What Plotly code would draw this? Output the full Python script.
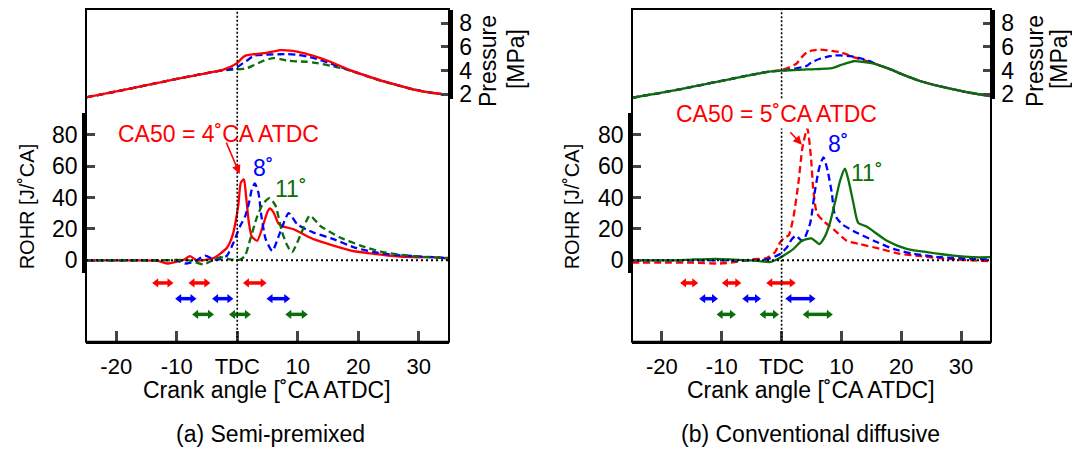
import plotly.graph_objects as go

# ---------------- data ----------------
# Panel (a) Semi-premixed : ROHR [J/°CA]
a_red_x = [-25, -20, -15, -13, -11.6, -10, -8.8, -7.8, -6.7, -5.5, -3.9, -2.9, -1.7, -0.8, -0.3, 0.2, 0.6, 1.1, 1.45, 1.9, 2.4, 3.3, 4.4, 5.0, 5.35, 6.0, 6.8, 7.7, 9.3, 10.4, 12.6, 15.9, 19.3, 22.6, 25.9, 29.2, 32.5, 35]
a_red_y = [0, 0, 0, -0.5, -2, -0.8, 0.5, 2.7, 0, 0.2, 1.5, 4, 8, 15.6, 24, 36, 49.6, 51.5, 41, 24.6, 15.2, 12.5, 24, 31, 33, 30.6, 23.5, 21.5, 19.8, 17.7, 13.5, 9.4, 5.8, 4.2, 2.7, 2, 2, 1]
a_blue_x = [-25, -15, -10, -8.6, -7, -5.3, -3.9, -2.8, -1.7, -0.6, 0.5, 1.3, 1.9, 2.4, 2.9, 3.5, 4.0, 4.7, 5.8, 7.1, 8.5, 9.9, 11, 12.6, 15.9, 19.3, 22.6, 25.9, 29.2, 32.5, 35]
a_blue_y = [0, 0, 0, -2, -0.5, 3, 0.5, 0.8, 3, 11.5, 22, 28, 36, 45, 49, 43, 28, 13.5, 6, 18, 30, 23, 20.5, 17.7, 13.5, 8.3, 5.2, 3.5, 2.7, 2, 1.5]
a_green_x = [-25, -15, -8, -5.6, -4, -2.8, -1.2, 0.5, 1.3, 2.15, 3.3, 4.25, 5.35, 6.3, 7.4, 8.2, 9.05, 10.4, 12, 13.7, 17, 20.4, 23.7, 27, 31.4, 35]
a_green_y = [0, 0, 0, -2.5, 0, 2, 0.6, 0.5, 3, 13.5, 28, 36, 39.6, 35, 18, 10, 5.2, 15.6, 28.5, 22, 14.6, 9.4, 5.6, 3.5, 2, 1.5]

# Panel (a) : cylinder pressure [MPa]
a_p_x = [-25, -20, -15, -10, -5, -2.5, -1.2, 0, 1, 1.6, 2.7, 4.4, 6, 7.1, 8.2, 9.9, 11.5, 12.6, 15.4, 18.1, 20.9, 23.7, 26.5, 29.2, 32, 35]
a_p_red = [1.75, 2.25, 2.78, 3.3, 3.8, 4.05, 4.3, 4.65, 5.15, 5.3, 5.38, 5.47, 5.62, 5.72, 5.7, 5.6, 5.4, 5.25, 4.75, 4.15, 3.65, 3.18, 2.78, 2.41, 2.15, 1.95]
a_p_blue = [1.75, 2.25, 2.78, 3.3, 3.8, 4.03, 4.12, 4.3, 4.65, 4.84, 5.25, 5.34, 5.37, 5.38, 5.39, 5.33, 5.2, 5.08, 4.6, 4.12, 3.64, 3.17, 2.78, 2.41, 2.15, 1.95]
a_p_green = [1.75, 2.25, 2.78, 3.3, 3.8, 4.02, 4.07, 4.1, 4.15, 4.2, 4.45, 4.84, 5.06, 4.98, 4.84, 4.78, 4.75, 4.68, 4.42, 4.09, 3.62, 3.16, 2.76, 2.4, 2.14, 1.95]

# Panel (b) Conventional diffusive : ROHR
b_red_x = [-25, -20, -15, -10.3, -7.5, -5.3, -2.5, -1.1, -0.25, 0.5, 1.2, 2, 2.8, 3.5, 4.3, 4.9, 5.3, 5.9, 7, 8.7, 10.9, 13.1, 16.5, 19.8, 23.2, 27.6, 32, 35]
b_red_y = [-1.5, -1.5, -1.5, -2, -1, 0.6, 1.5, 5.2, 11.5, 14.5, 16, 28, 49, 72, 84, 66, 45, 30, 25, 19.8, 12.5, 10.4, 7.3, 4.2, 2.7, 1, 0, -0.6]
b_blue_x = [-25, -15, -5, -2.5, -0.25, 0.9, 1.7, 2.4, 3.4, 3.9, 4.8, 5.6, 6.3, 7, 7.7, 8.4, 8.9, 10.1, 12, 15.4, 18.7, 22, 26.5, 32, 35]
b_blue_y = [0, 0, 0, 0.6, 4, 8.3, 13.5, 15.6, 12.5, 14.6, 24, 44.8, 59, 65.6, 57, 42.7, 29, 23, 18.75, 12.5, 7.3, 4.2, 2, 1, 0.6]
b_green_x = [-25, -18, -15, -11, -8, -5, -1.9, -0.8, 0.3, 2, 3.4, 5, 6.3, 7.3, 8.1, 8.9, 9.8, 10.6, 11.3, 12, 12.8, 14.2, 17.6, 20.9, 24.3, 28.7, 32, 35]
b_green_y = [0, 0, 0.5, 1, 0.5, 0, -1, 0.6, 3, 7.3, 12.5, 14, 10.4, 15.6, 24, 36.5, 51, 58.3, 49, 36.5, 24, 21.5, 12.5, 7.3, 5.2, 3, 2, 2]

# Panel (b) : pressure
b_p_x = [-25, -20, -15, -10, -5, -2, 0, 0.9, 2, 2.5, 3.5, 4.2, 5, 6.4, 8.1, 8.7, 9.8, 11.5, 12, 13.5, 14.8, 16, 18, 20.4, 23, 26, 29, 31.5, 35]
b_p_green = [1.72, 2.15, 2.63, 3.15, 3.65, 3.92, 4.0, 4.02, 4.05, 4.06, 4.08, 4.1, 4.11, 4.14, 4.19, 4.25, 4.46, 4.72, 4.79, 4.75, 4.65, 4.5, 4.15, 3.64, 3.15, 2.74, 2.4, 2.14, 1.86]
b_p_red = [1.72, 2.15, 2.63, 3.15, 3.65, 3.92, 4.05, 4.19, 4.45, 4.6, 5.2, 5.55, 5.68, 5.77, 5.68, 5.64, 5.55, 5.25, 5.14, 4.92, 4.73, 4.52, 4.15, 3.64, 3.15, 2.74, 2.4, 2.14, 1.86]
b_p_blue = [1.72, 2.15, 2.63, 3.15, 3.65, 3.92, 4.0, 4.05, 4.15, 4.2, 4.3, 4.4, 4.7, 5.0, 5.22, 5.28, 5.28, 5.22, 5.18, 5.0, 4.78, 4.5, 4.15, 3.64, 3.15, 2.74, 2.4, 2.14, 1.86]

# Injection periods [°CA ATDC] (start, end), rows: CA50 = 4/5, 8, 11
a_inj_red = [(-13.4, -11.2), (-7.4, -5.1), (1.6, 4.2)]
a_inj_blue = [(-9.6, -7.4), (-3.5, -1.3), (5.5, 8.1)]
a_inj_green = [(-6.8, -4.5), (-0.7, 1.6), (8.6, 11.0)]
b_inj_red = [(-16.3, -14.6), (-9.3, -7.4), (-1.9, 1.7)]
b_inj_blue = [(-13.1, -11.3), (-5.9, -4.1), (1.3, 5.0)]
b_inj_green = [(-10.2, -8.3), (-3.0, -1.1), (4.2, 7.9)]
inj_rows = [1, 2, 3]

x_tickvals = [-20, -10, 0, 10, 20, 30]
x_ticktext = ["-20", "-10", "TDC", "10", "20", "30"]
rohr_ticks = [0, 20, 40, 60, 80]
p_ticks = [2, 4, 6, 8]

# ---------------- layout helpers ----------------
# page has an 8px body margin; figure sized so the page is exactly 1080x460
OFF = 8
FW, FH = 1064, 444
def px(x):
    return (x - OFF) / FW
def py(y):
    return 1 - (y - OFF) / FH

RED, BLUE, GREEN = "#ff0000", "#0000ff", "#0b6e0b"
FONT = "Liberation Sans, Arial, sans-serif"
DASH = "7px,4px"

fig = go.Figure()

panels = [
    dict(xa="x", ya_r="y", ya_p="y2", ya_i="y3",
         rohr=[(a_red_x, a_red_y, RED, "solid"), (a_blue_x, a_blue_y, BLUE, DASH), (a_green_x, a_green_y, GREEN, DASH)],
         pres=(a_p_x, [(a_p_green, GREEN, DASH), (a_p_blue, BLUE, DASH), (a_p_red, RED, "solid")]),
         inj=[(a_inj_red, RED), (a_inj_blue, BLUE), (a_inj_green, GREEN)]),
    dict(xa="x2", ya_r="y4", ya_p="y5", ya_i="y6",
         rohr=[(b_red_x, b_red_y, RED, DASH), (b_blue_x, b_blue_y, BLUE, DASH), (b_green_x, b_green_y, GREEN, "solid")],
         pres=(b_p_x, [(b_p_red, RED, DASH), (b_p_blue, BLUE, DASH), (b_p_green, GREEN, "solid")]),
         inj=[(b_inj_red, RED), (b_inj_blue, BLUE), (b_inj_green, GREEN)]),
]

for p in panels:
    for xs, ys, col, dash in p["rohr"]:
        fig.add_trace(go.Scatter(x=xs, y=ys, mode="lines", xaxis=p["xa"], yaxis=p["ya_r"],
                                 line=dict(color=col, width=2.3, dash=dash, shape="spline", smoothing=0.6),
                                 showlegend=False, hoverinfo="skip"))
    px_, plist = p["pres"]
    for ys, col, dash in plist:
        fig.add_trace(go.Scatter(x=px_, y=ys, mode="lines", xaxis=p["xa"], yaxis=p["ya_p"],
                                 line=dict(color=col, width=2.3, dash=dash, shape="spline", smoothing=0.6),
                                 showlegend=False, hoverinfo="skip"))
    for (segs, col), row in zip(p["inj"], inj_rows):
        xs, ys, sym = [], [], []
        for s, e in segs:
            xs += [s, e, None]
            ys += [row, row, None]
            sym += ["triangle-left", "triangle-right", "circle"]
        fig.add_trace(go.Scatter(x=xs, y=ys, mode="lines+markers", xaxis=p["xa"], yaxis=p["ya_i"],
                                 line=dict(color=col, width=3.5),
                                 marker=dict(symbol=sym, size=8, color=col),
                                 showlegend=False, hoverinfo="skip", cliponaxis=False))

common_x = dict(range=[-25, 35], tickvals=x_tickvals, ticktext=x_ticktext, ticks="inside",
                ticklen=10, tickwidth=3, showline=True, linewidth=3, linecolor="black",
                showgrid=False, zeroline=False, anchor="free", position=py(348),
                tickfont=dict(size=22, family=FONT, color="black"), ticklabelstandoff=4)
fig.update_layout(
    xaxis=dict(domain=[px(86), px(449)], **common_x),
    xaxis2=dict(domain=[px(632), px(991)], **common_x),
)

def rohr_axis(xa):
    return dict(domain=[py(278), py(115)], range=[-8.125, 93.75], anchor=xa, side="left",
                tickvals=rohr_ticks, ticks="inside", ticklen=9, tickwidth=3,
                showline=True, linewidth=3.5, linecolor="black", showgrid=False, zeroline=False,
                tickfont=dict(size=23, family=FONT, color="black"), ticklabelstandoff=0)

def p_axis(xa):
    return dict(domain=[py(101), py(10)], range=[1.587, 9.107], anchor=xa, side="right",
                tickvals=p_ticks, ticks="inside", ticklen=8, tickwidth=3,
                showline=True, linewidth=3.5, linecolor="black", showgrid=False, zeroline=False,
                tickfont=dict(size=23, family=FONT, color="black"), ticklabelstandoff=2)

def inj_axis(xa):
    return dict(domain=[py(336), py(280)], range=[4.0, 0.5], anchor=xa, visible=False,
                showgrid=False, zeroline=False)

fig.update_layout(
    yaxis=rohr_axis("x"), yaxis2=p_axis("x"), yaxis3=inj_axis("x"),
    yaxis4=rohr_axis("x2"), yaxis5=p_axis("x2"), yaxis6=inj_axis("x2"),
)

shapes = []
for p, tdc_segs in zip(panels, [[(10, 348)], [(10, 100), (128, 348)]]):
    xd = p["xa"] + " domain"
    # frame
    shapes.append(dict(type="rect", xref=xd, yref="paper", x0=0, x1=1, y0=py(348), y1=py(9),
                       line=dict(color="black", width=2), layer="above"))
    # zero line
    shapes.append(dict(type="line", xref=p["xa"], yref=p["ya_r"], x0=-25, x1=35, y0=0, y1=0,
                       line=dict(color="black", width=2, dash="2px,3px"), layer="above"))
    # TDC line
    for y0, y1 in tdc_segs:
        shapes.append(dict(type="line", xref=p["xa"], yref="paper", x0=0, x1=0, y0=py(y1), y1=py(y0),
                           line=dict(color="black", width=1.6, dash="2px,2px"), layer="above"))

ann = []
def txt(x, y, s, size=23, color="black", angle=0, **kw):
    ann.append(dict(x=px(x), y=py(y), xref="paper", yref="paper", text=s, showarrow=False,
                    font=dict(size=size, family=FONT, color=color), textangle=angle,
                    xanchor="center", yanchor="middle", **kw))

# axis titles
txt(27, 210, "ROHR [J/˚CA]", size=20, angle=-90)
txt(572, 210, "ROHR [J/˚CA]", size=20, angle=-90)
txt(488, 62, "Pressure", angle=-90)
txt(516, 60, "[MPa]", angle=-90)
txt(1035, 62, "Pressure", angle=-90)
txt(1059, 60, "[MPa]", angle=-90)
txt(267, 397, "Crank angle [˚CA ATDC]")
txt(811, 397, "Crank angle [˚CA ATDC]")
txt(270, 442, "(a) Semi-premixed")
txt(810, 442, "(b) Conventional diffusive")
# labels
txt(218, 136, "CA50 = 4˚CA ATDC", size=23, color=RED)
txt(263, 171, "8˚", color=BLUE)
txt(291, 192, "11˚", color=GREEN)
txt(776, 116, "CA50 = 5˚CA ATDC", size=23, color=RED, bgcolor="white")
txt(838, 146, "8˚", color=BLUE)
txt(867, 176, "11˚", color=GREEN)
# arrows
ann.append(dict(x=0.4, y=55, xref="x", yref="y", ax=-14, ay=-33, showarrow=True, text="",
                arrowhead=2, arrowsize=1.1, arrowwidth=1.6, arrowcolor=RED))
ann.append(dict(x=3.4, y=73.6, xref="x2", yref="y4", ax=-13, ay=-14, showarrow=True, text="",
                arrowhead=2, arrowsize=1.1, arrowwidth=1.6, arrowcolor=RED))

fig.update_layout(width=FW, height=FH, margin=dict(l=0, r=0, t=0, b=0),
                  paper_bgcolor="white", plot_bgcolor="white",
                  font=dict(family=FONT, size=23, color="black"),
                  shapes=shapes, annotations=ann, showlegend=False)

fig.write_html("out.html")
